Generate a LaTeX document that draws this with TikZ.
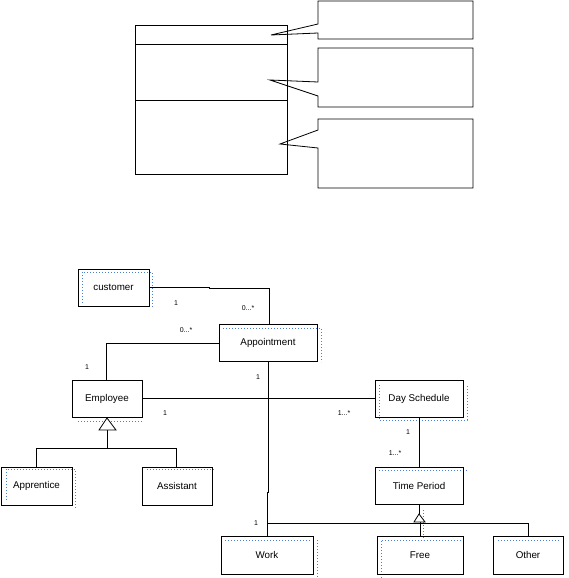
\documentclass[tikz,border=0pt]{standalone}
\usepackage{fontspec}
\setmainfont{Liberation Sans}
\definecolor{ghostblue}{HTML}{4A7FD6}
\begin{document}
\begin{tikzpicture}[x=1pt,y=-1pt,
  line width=0.8pt,
  cls/.style={draw, rectangle, inner sep=0pt, font=\fontsize{9.8}{11}\selectfont},
  mult/.style={inner sep=0pt, font=\fontsize{7}{8}\selectfont},
  conn/.style={draw, line width=0.8pt},
  gen/.style={draw, fill=white, line width=0.8pt},
  ghost/.style={draw=ghostblue, line width=0.8pt, dash pattern=on 0.8pt off 2.2pt}]
\useasboundingbox (0,0) rectangle (569,578);
% ---------- top template ----------
\node[cls, minimum width=152pt, minimum height=19pt] (top1) at (211,34.5) {};
\node[cls, minimum width=152pt, minimum height=56pt] (top2) at (211,72) {};
\node[cls, minimum width=152pt, minimum height=74pt] (top3) at (211,137) {};
% callouts
\draw (318,24) -- (318,1) -- (473,1) -- (473,39) -- (318,39) -- (318,33) -- (271,35) -- cycle;
\draw (318,82) -- (318,48) -- (473,48) -- (473,107) -- (318,107) -- (318,96) -- (270,80) -- cycle;
\draw (318,130) -- (318,119) -- (473,119) -- (473,188) -- (318,188) -- (318,148) -- (280,144) -- cycle;
% ---------- ghost dotted outlines ----------
\draw[ghost] (82,303) -- (82,272) -- (152,272) -- (152,308);
\draw[ghost] (223,328) -- (321,328) -- (321,362);
\draw[ghost] (78,421) -- (143,421);
\draw[ghost] (6,500) -- (6,469) -- (75,469) -- (75,508);
\draw[ghost] (147,469) -- (215,469);
\draw[ghost] (379,385) -- (379,420) -- (467,420) -- (467,385);
\draw[ghost] (379,470) -- (467,470);
\draw[ghost] (225,540) -- (310,540);
\draw[ghost] (317,540) -- (317,577);
\draw[ghost] (381,578) -- (381,540) -- (465,540);
\draw[ghost] (423,510) -- (423,540);
\draw[ghost] (498,540) -- (560,540);
% ---------- class diagram ----------
\node[cls, minimum width=71pt, minimum height=37pt] (customer) at (113.5,287.5) {customer};
\node[cls, minimum width=98pt, minimum height=37pt] (appt) at (268,342.5) {Appointment};
\node[cls, minimum width=70pt, minimum height=37pt] (emp) at (107,398.5) {Employee};
\node[cls, minimum width=88pt, minimum height=37pt] (day) at (419,398.5) {Day Schedule};
\node[cls, minimum width=71pt, minimum height=38pt] (appr) at (36.5,486) {Apprentice};
\node[cls, minimum width=70pt, minimum height=38pt] (asst) at (177,486) {Assistant};
\node[cls, minimum width=88pt, minimum height=37pt] (tp) at (419,485.5) {Time Period};
\node[cls, minimum width=92pt, minimum height=38pt] (work) at (267,555) {Work};
\node[cls, minimum width=86pt, minimum height=38pt] (free) at (420,555) {Free};
\node[cls, minimum width=70pt, minimum height=38pt] (other) at (528,555) {Other};
% customer - appointment
\coordinate (c1) at (209,287);
\coordinate (c2) at (209,288);
\coordinate (c3) at (269,288);
\draw[conn] (customer.east |- c1) -- (c1) -- (c2) -- (c3) -- (c3 |- appt.north);
\node[mult] at (176,303) {1};
\node[mult] at (248,308) {0...*};
% appointment - employee
\coordinate (e1) at (106,343);
\draw[conn] (appt.west |- e1) -- (e1) -- (e1 |- emp.north);
\node[mult] at (186,330) {0...*};
\node[mult] at (87,367) {1};
% employee - day schedule
\draw[conn] (emp.east) -- (day.west);
\node[mult] at (165,413) {1};
\node[mult] at (344,413) {1...*};
% day schedule - time period
\draw[conn] (day.south) -- (tp.north);
\node[mult] at (408,432) {1};
\node[mult] at (395,453) {1...*};
% appointment - work / other
\coordinate (w0) at (268,492);
\coordinate (w1) at (267,492);
\coordinate (w2) at (267,523);
\coordinate (w3) at (528,523);
\draw[conn] (appt.south -| w0) -- (w0) -- (w1) -- (w1 |- work.north);
\draw[conn] (w2) -- (w3) -- (other.north);
\node[mult] at (258,377) {1};
\node[mult] at (256,523) {1};
% employee generalization
\coordinate (ga) at (107,418);
\coordinate (gb) at (107,430);
\coordinate (gh) at (107,448);
\coordinate (gl) at (36,448);
\coordinate (gr) at (176,448);
\draw[conn] (gb) -- (gh);
\draw[conn] (gl |- appr.north) -- (gl) -- (gr) -- (gr |- asst.north);
\draw[gen] (ga) -- (99,430) -- (116,430) -- cycle;
% time period generalization
\coordinate (ta) at (419,514);
\coordinate (tb) at (420,522);
\draw[conn] (tp.south) -- (ta);
\draw[conn] (tb) -- (free.north);
\draw[gen] (ta) -- (414,522) -- (425,522) -- cycle;
\end{tikzpicture}
\end{document}
